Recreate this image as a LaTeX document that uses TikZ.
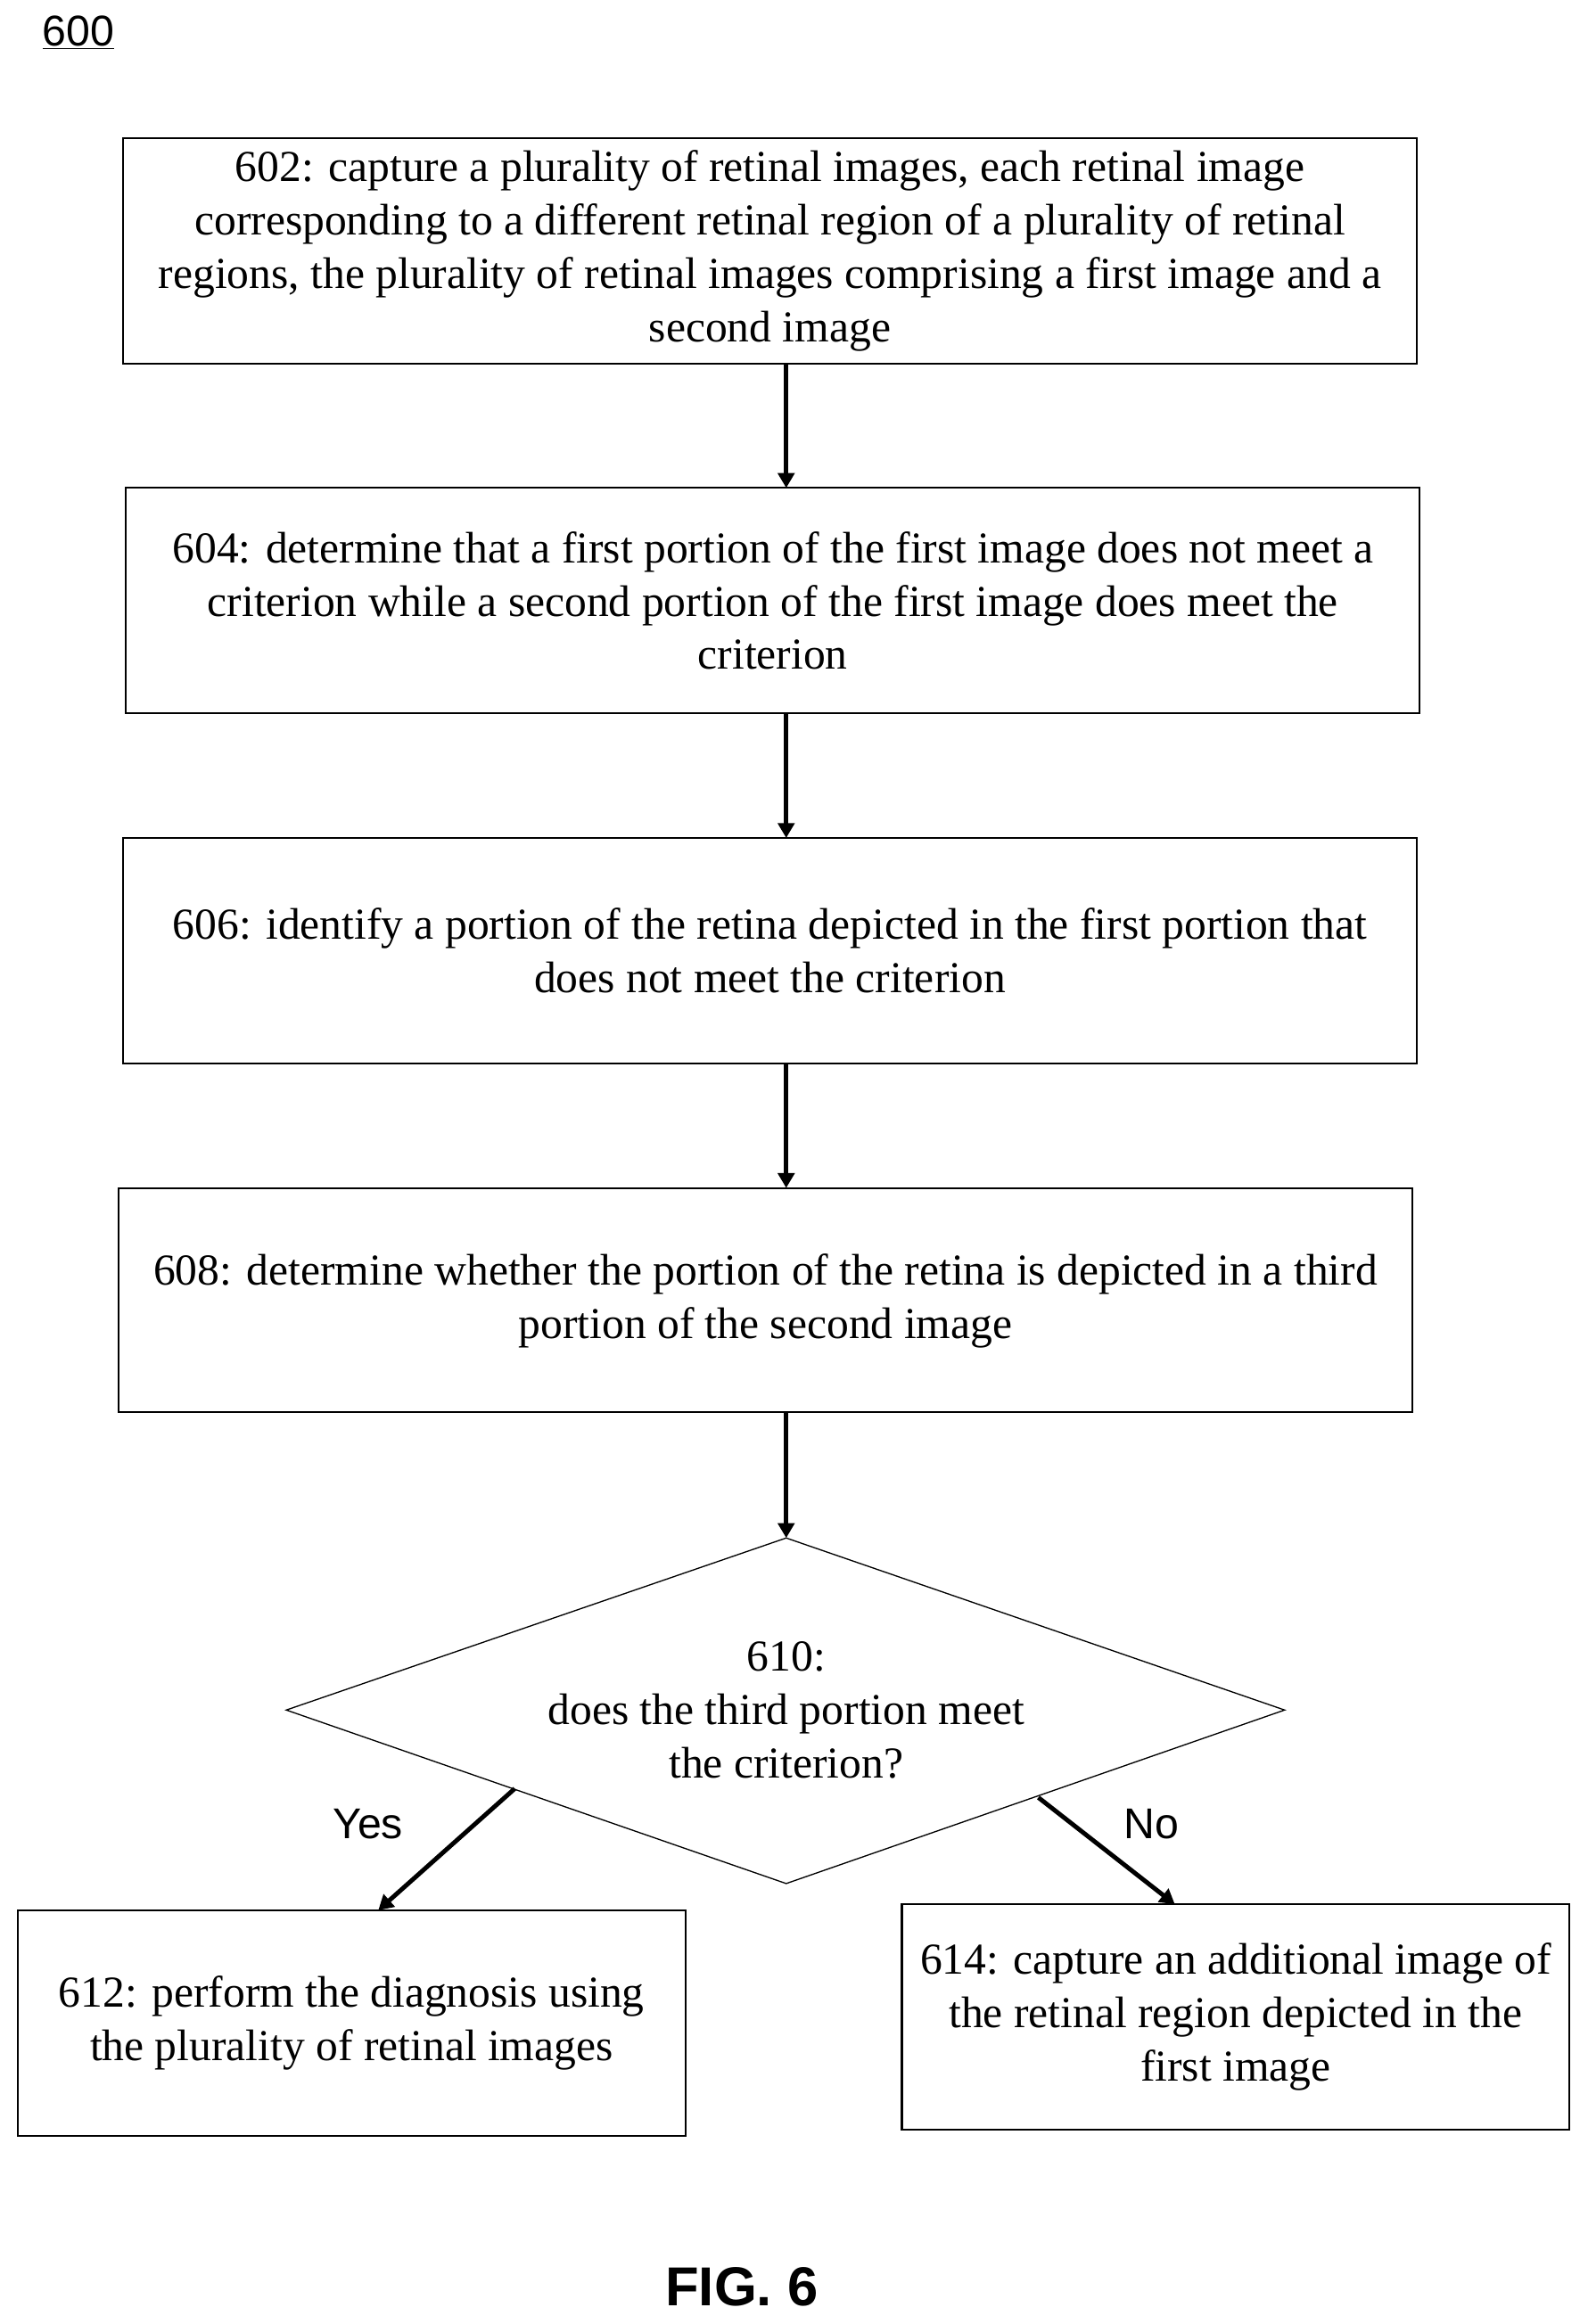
\documentclass[tikz,border=0pt]{standalone}
\usepackage{fontspec}
\setmainfont{Liberation Serif}
\setsansfont{Liberation Sans}
\usetikzlibrary{shapes.geometric,arrows.meta}
\begin{document}
\begin{tikzpicture}[x=1pt,y=-1pt,
  box/.style={draw,line width=1.3pt,inner sep=0pt},
  txt/.style={align=center,font=\fontsize{29.8}{36}\selectfont},
  arr/.style={line width=3pt,-{Triangle[length=10pt,width=11pt]}},
  lab/.style={font=\sffamily\fontsize{29}{32}\selectfont}]
\useasboundingbox (0,0) rectangle (1070,1567);
\node[lab] (n600) at (53,22) {\underline{600}};
\draw[box] (83,93) rectangle (955,245);
\node[txt] (b602) at (519,169) {602: capture a plurality of retinal images, each retinal image\\corresponding to a different retinal region of a plurality of retinal\\regions, the plurality of retinal images comprising a first image and a\\second image};
\draw[box] (85,329) rectangle (957,481);
\node[txt] (b604) at (521,405) {604: determine that a first portion of the first image does not meet a\\criterion while a second portion of the first image does meet the\\criterion};
\draw[box] (83,565) rectangle (955,717);
\node[txt] (b606) at (519,641) {606: identify a portion of the retina depicted in the first portion that\\does not meet the criterion};
\draw[box] (80,801) rectangle (952,952);
\node[txt] (b608) at (516,877) {608: determine whether the portion of the retina is depicted in a third\\portion of the second image};
\draw[line width=0.8pt] (530,1037) -- (866,1153) -- (530,1270) -- (193,1153) -- cycle;
\node[txt] (d610) at (530,1153) {610:\\does the third portion meet\\the criterion?};
\draw[box] (12,1288) rectangle (462,1440);
\node[txt] (b612) at (237,1364) {612: perform the diagnosis using\\the plurality of retinal images};
\draw[box] (608,1284) rectangle (1058,1436);
\node[txt] (b614) at (833,1360) {614: capture an additional image of\\the retinal region depicted in the\\first image};
\coordinate (a1) at (530,245); \coordinate (a2) at (530,329);
\coordinate (a3) at (530,481); \coordinate (a4) at (530,565);
\coordinate (a5) at (530,717); \coordinate (a6) at (530,801);
\coordinate (a7) at (530,952); \coordinate (a8) at (530,1037);
\draw[arr] (a1) -- (a2); \draw[arr] (a3) -- (a4); \draw[arr] (a5) -- (a6); \draw[arr] (a7) -- (a8);
\coordinate (y1) at (347,1206); \coordinate (y2) at (255,1288);
\coordinate (n1) at (700,1212); \coordinate (n2) at (792,1284);
\draw[arr] (y1) -- (y2); \draw[arr] (n1) -- (n2);
\node[lab] (yes) at (248,1230) {Yes};
\node[lab] (no) at (776,1230) {No};
\node[font=\sffamily\bfseries\fontsize{37}{42}\selectfont] (fig) at (500,1542) {FIG. 6};
\end{tikzpicture}
\end{document}
